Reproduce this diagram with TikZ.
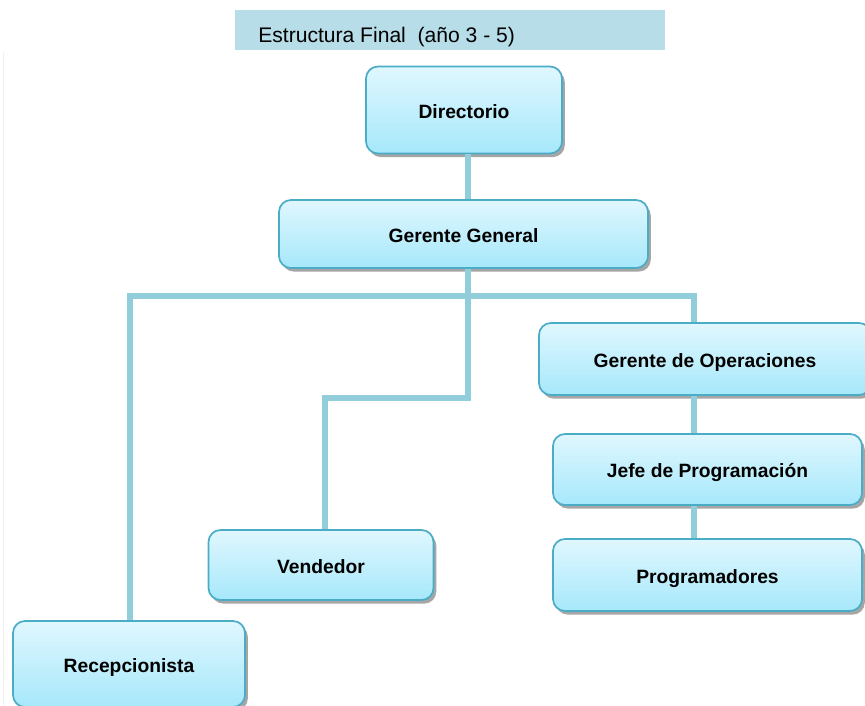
\documentclass[tikz,border=0pt]{standalone}
\usepackage{fontspec}
\setmainfont{Liberation Sans}
\usepackage{xcolor}
\usepackage{tikz}
\usetikzlibrary{shadows}
\definecolor{boxtop}{HTML}{E0F7FE}
\definecolor{boxbot}{HTML}{A6E8FB}
\definecolor{boxline}{HTML}{4BACC6}
\definecolor{linkc}{HTML}{92CDDC}
\definecolor{bandc}{HTML}{B7DDE8}
\begin{document}
\begin{tikzpicture}[x=0.25mm,y=-0.25mm,
orgbox/.style={draw=boxline, line width=1.2pt, rounded corners=3mm, top color=boxtop, bottom color=boxbot, drop shadow={shadow xshift=0.7mm, shadow yshift=-0.9mm, opacity=0.35, fill=black}, font=\fontsize{13.7}{16}\selectfont\bfseries, inner sep=0pt, text height=4.25mm, text depth=0pt},
link/.style={draw=linkc, line width=3.6pt}
]
\useasboundingbox (0,0) rectangle (865,706);
\draw[black!6] (3,52) -- (3,706);

\fill[bandc] (235,10) rectangle (665,50);
\node[anchor=base west, inner sep=0pt, font=\fontsize{15}{18}\selectfont](title) at (258,43) {Estructura Final\ \ (año 3 - 5)};

\node[orgbox, minimum width=49mm, minimum height=21.75mm](dir) at (464,110) {Directorio};
\node[orgbox, minimum width=92.25mm, minimum height=17mm](gg) at (463.5,234) {Gerente General};
\node[orgbox, minimum width=83mm, minimum height=18mm](go) at (705,359) {Gerente de Operaciones};
\node[orgbox, minimum width=77.25mm, minimum height=17.75mm](jp) at (707.5,469.5) {Jefe de Programación};
\node[orgbox, minimum width=77.25mm, minimum height=18mm](prog) at (707.5,575) {Programadores};
\node[orgbox, minimum width=56.25mm, minimum height=17.5mm](vend) at (321,565) {Vendedor};
\node[orgbox, minimum width=58mm, minimum height=21.5mm](rec) at (129,664) {Recepcionista};

\coordinate (bus) at (468,296);
\coordinate (busl) at (130,296);
\coordinate (busr) at (694,296);
\coordinate (bend) at (468,398);

\draw[link](dir.south -| bus) to (gg.north -| bus);
\draw[link](gg.south -| bus) -- (bend) -| ([xshift=1mm]vend.north);
\draw[link](busl |- rec.north) |- (busr) -- (busr |- go.north);
\draw[link](go.south -| busr) to (jp.north -| busr);
\draw[link](jp.south -| busr) to (prog.north -| busr);

\end{tikzpicture}
\end{document}
